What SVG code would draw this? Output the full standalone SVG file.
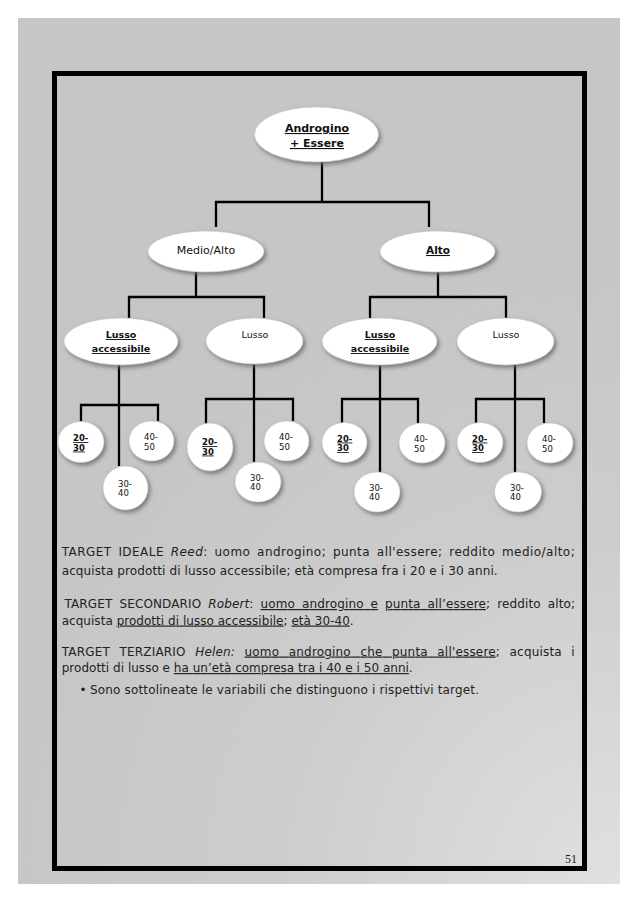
<svg xmlns="http://www.w3.org/2000/svg" width="638" height="903" viewBox="0 0 638 903">
  <defs>
    <radialGradient id="pageGrad" cx="620" cy="884" r="620" gradientUnits="userSpaceOnUse">
      <stop offset="0" stop-color="#e0e0e0"/>
      <stop offset="0.55" stop-color="#cdcdcd"/>
      <stop offset="1" stop-color="#c6c6c6"/>
    </radialGradient>
    <filter id="shadow" x="-30%" y="-30%" width="160%" height="170%">
      <feDropShadow dx="2" dy="2.5" stdDeviation="2.2" flood-color="#6a6a6a" flood-opacity="0.85"/>
    </filter>
    <style>
      .node { fill: #ffffff; stroke: #c4c4c4; stroke-width: 0.6; filter: url(#shadow); }
      .conn { fill: none; stroke: #000000; stroke-width: 2.3; stroke-linejoin: miter; }
      .nt { font-family: "DejaVu Sans", "Liberation Sans", sans-serif; fill: #111111; text-anchor: middle; }
      .b { font-weight: bold; text-decoration: underline; }
      .ct { font-family: "DejaVu Sans", "Liberation Sans", sans-serif; fill: #111111; font-size: 8.5px; }
      .body { font-family: "DejaVu Sans", "Liberation Sans", sans-serif; font-size: 12px; fill: #222222; }
      .u { text-decoration: underline; }
      .it { font-style: italic; }
    </style>
  </defs>

  <rect x="0" y="0" width="638" height="903" fill="#ffffff"/>
  <rect x="18" y="18" width="602" height="866" fill="url(#pageGrad)"/>
  <rect x="54.5" y="73.5" width="530" height="795" fill="none" stroke="#000000" stroke-width="5"/>

  <g id="connectors">
    <path class="conn" d="M322,162 V202 M216,227 V202 H429 V227"/>
    <path class="conn" d="M196,272 V297 M129,318 V297 H264 V318"/>
    <path class="conn" d="M438,272 V297 M370,318 V297 H506 V318"/>
    <path class="conn" d="M119,365 V466 M81,421 V405 H158 V421"/>
    <path class="conn" d="M254,364 V462 M206,424 V399 H293 V421"/>
    <path class="conn" d="M380,365 V472 M342,423 V399 H418 V423"/>
    <path class="conn" d="M515,365 V472 M476,423 V399 H544 V423"/>
  </g>

  <g id="root">
    <ellipse class="node" cx="316.5" cy="134.5" rx="62" ry="27.5"/>
    <text class="nt b" font-size="11" x="317" y="132">Androgino</text>
    <text class="nt b" font-size="11" x="317" y="147">+ Essere</text>
  </g>
  <g id="medio-alto">
    <ellipse class="node" cx="206" cy="251.5" rx="58" ry="20.5"/>
    <text class="nt" font-size="11" x="206" y="254">Medio/Alto</text>
  </g>
  <g id="alto">
    <ellipse class="node" cx="437.5" cy="251.5" rx="57.5" ry="20.5"/>
    <text class="nt b" font-size="10.5" x="438" y="254">Alto</text>
  </g>

  <g id="lusso-accessibile-1">
    <ellipse class="node" cx="121" cy="341.5" rx="57" ry="23.5"/>
    <text class="nt b" font-size="9.5" x="121" y="338">Lusso</text>
    <text class="nt b" font-size="9.5" x="121" y="352">accessibile</text>
  </g>
  <g id="lusso-1">
    <ellipse class="node" cx="254.5" cy="341" rx="48.5" ry="23"/>
    <text class="nt" font-size="9.5" x="255" y="338">Lusso</text>
  </g>
  <g id="lusso-accessibile-2">
    <ellipse class="node" cx="379.5" cy="341.5" rx="57.5" ry="23.5"/>
    <text class="nt b" font-size="9.5" x="380" y="338">Lusso</text>
    <text class="nt b" font-size="9.5" x="380" y="352">accessibile</text>
  </g>
  <g id="lusso-2">
    <ellipse class="node" cx="505.5" cy="341.5" rx="48.5" ry="23.5"/>
    <text class="nt" font-size="9.5" x="506" y="338">Lusso</text>
  </g>

  <g id="age-20-30-a">
    <ellipse class="node" cx="81" cy="442" rx="23" ry="20.5"/>
    <text class="ct b" x="73" y="441">20-</text>
    <text class="ct b" x="73" y="450.5">30</text>
  </g>
  <g id="age-40-50-a">
    <ellipse class="node" cx="151.5" cy="441" rx="22.5" ry="20"/>
    <text class="ct" x="144" y="440">40-</text>
    <text class="ct" x="144" y="449.5">50</text>
  </g>
  <g id="age-30-40-a">
    <ellipse class="node" cx="125.5" cy="488" rx="22.5" ry="22"/>
    <text class="ct" x="118" y="486.5">30-</text>
    <text class="ct" x="118" y="496">40</text>
  </g>

  <g id="age-20-30-b">
    <ellipse class="node" cx="210" cy="447" rx="23" ry="24"/>
    <text class="ct b" x="202" y="445">20-</text>
    <text class="ct b" x="202" y="454.5">30</text>
  </g>
  <g id="age-40-50-b">
    <ellipse class="node" cx="286.5" cy="441" rx="22.5" ry="20"/>
    <text class="ct" x="279" y="440">40-</text>
    <text class="ct" x="279" y="449.5">50</text>
  </g>
  <g id="age-30-40-b">
    <ellipse class="node" cx="258" cy="482" rx="23" ry="20"/>
    <text class="ct" x="250" y="480.5">30-</text>
    <text class="ct" x="250" y="490">40</text>
  </g>

  <g id="age-20-30-c">
    <ellipse class="node" cx="344.5" cy="442.5" rx="22.5" ry="20"/>
    <text class="ct b" x="337" y="441.5">20-</text>
    <text class="ct b" x="337" y="451">30</text>
  </g>
  <g id="age-40-50-c">
    <ellipse class="node" cx="422" cy="443" rx="23" ry="20"/>
    <text class="ct" x="414" y="442">40-</text>
    <text class="ct" x="414" y="451.5">50</text>
  </g>
  <g id="age-30-40-c">
    <ellipse class="node" cx="377" cy="492" rx="23" ry="20"/>
    <text class="ct" x="369" y="490.5">30-</text>
    <text class="ct" x="369" y="500">40</text>
  </g>

  <g id="age-20-30-d">
    <ellipse class="node" cx="480" cy="442.5" rx="23" ry="20"/>
    <text class="ct b" x="472" y="441.5">20-</text>
    <text class="ct b" x="472" y="451">30</text>
  </g>
  <g id="age-40-50-d">
    <ellipse class="node" cx="550" cy="443" rx="23" ry="20"/>
    <text class="ct" x="542" y="442">40-</text>
    <text class="ct" x="542" y="451.5">50</text>
  </g>
  <g id="age-30-40-d">
    <ellipse class="node" cx="518" cy="492" rx="23.5" ry="20"/>
    <text class="ct" x="510" y="490.5">30-</text>
    <text class="ct" x="510" y="500">40</text>
  </g>

  <g id="description" xml:space="preserve">
    <text class="body" x="61.7" y="555.5" word-spacing="2.5" textLength="513" lengthAdjust="spacing">TARGET IDEALE <tspan class="it">Reed</tspan>: uomo androgino; punta all'essere;  reddito medio/alto;</text>
    <text class="body" x="61.7" y="575" textLength="436" lengthAdjust="spacing">acquista prodotti di lusso accessibile; età compresa fra i 20 e i 30 anni.</text>
    <text class="body" x="64.5" y="608" word-spacing="3" textLength="510.5" lengthAdjust="spacing">TARGET SECONDARIO <tspan class="it">Robert</tspan>: <tspan class="u">uomo androgino e</tspan> <tspan class="u">punta all’essere</tspan>; reddito alto;</text>
    <text class="body" x="61.7" y="624.5" textLength="292" lengthAdjust="spacing">acquista <tspan class="u">prodotti di lusso accessibile</tspan>; <tspan class="u">età 30-40</tspan>.</text>
    <text class="body" x="61.7" y="655.5" word-spacing="5.5" textLength="513" lengthAdjust="spacing">TARGET TERZIARIO <tspan class="it">Helen:</tspan> <tspan class="u">uomo androgino che punta all'essere</tspan>;  acquista i</text>
    <text class="body" x="61.7" y="672" textLength="351" lengthAdjust="spacing">prodotti di lusso e <tspan class="u">ha un’età compresa tra i 40 e i 50 anni</tspan>.</text>
    <text class="body" x="79.5" y="693.5">•</text>
    <text class="body" x="90" y="693.5" textLength="389" lengthAdjust="spacing">Sono sottolineate le variabili che distinguono i rispettivi target.</text>
  </g>

  <text x="577" y="863" font-family="Liberation Serif, serif" font-size="12" fill="#222222" text-anchor="end">51</text>
</svg>
